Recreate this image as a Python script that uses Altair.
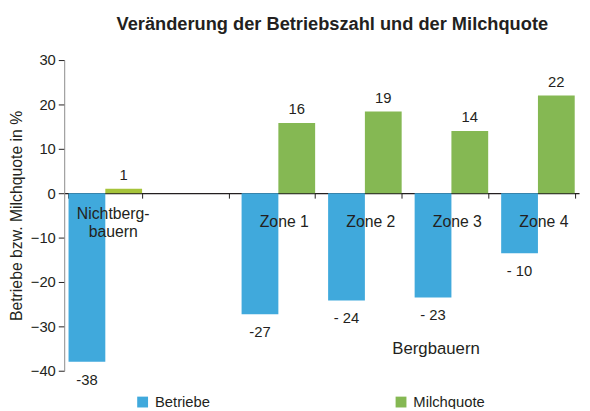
import altair as alt
import pandas as pd

# --- data ---
categories = ["Nichtbergbauern", "Zone 1", "Zone 2", "Zone 3", "Zone 4"]
x_domain = ["Nichtbergbauern", " ", "Zone 1", "Zone 2", "Zone 3", "Zone 4"]
cat_labels = ["Nichtberg-\nbauern", "Zone 1", "Zone 2", "Zone 3", "Zone 4"]
series = ["Betriebe", "Milchquote"]
betriebe = [-38, -27.3, -24.2, -23.5, -13.5]
betriebe_labels = ["-38", "-27", "- 24", "- 23", "- 10"]
milchquote = [1, 15.8, 18.4, 14, 22]
milch_labels = ["1", "16", "19", "14", "22"]
colors = ["#40a9dc", "#85b853"]
y_ticks = [-40, -30, -20, -10, 0, 10, 20, 30]
group_note = ["Bergbauern"]
title_text = "Veränderung der Betriebszahl und der Milchquote"
y_title = "Betriebe bzw. Milchquote in %"

rows = []
for c, v, l in zip(categories, betriebe, betriebe_labels):
    rows.append({"cat": c, "series": "Betriebe", "value": v, "label": l})
for c, v, l in zip(categories, milchquote, milch_labels):
    rows.append({"cat": c, "series": "Milchquote", "value": v, "label": l})
df = pd.DataFrame(rows)
cat_df = pd.DataFrame({"cat": categories, "catlabel": cat_labels})

TEXT = "#231f20"
FONT = "Liberation Sans"

x_enc = alt.X(
    "cat:N",
    sort=x_domain,
    scale=alt.Scale(domain=x_domain, paddingInner=0.15, paddingOuter=0.05),
    axis=alt.Axis(
        title=None, labels=False, offset=-180, tickBand="extent",
        domainColor=TEXT, tickColor=TEXT, tickSize=5, domainWidth=1.2,
    ),
)
xo_enc = alt.XOffset("series:N", scale=alt.Scale(domain=series, paddingInner=0, paddingOuter=0))
y_enc = alt.Y(
    "value:Q",
    scale=alt.Scale(domain=[-40, 30], nice=False, zero=False),
    axis=alt.Axis(
        values=y_ticks, title=y_title, grid=False, tickSize=6,
        domainColor="#8a8a8a", tickColor=TEXT, labelFontSize=15,
        labelColor=TEXT, titleFontSize=16, titleColor=TEXT,
        titleFontWeight="normal", titlePadding=6, labelPadding=3,
    ),
)

base = alt.Chart(df)

bars = base.mark_bar().encode(
    x=x_enc,
    xOffset=xo_enc,
    y=y_enc,
    color=alt.condition(
        (alt.datum.cat == "Nichtbergbauern") & (alt.datum.series == "Milchquote"),
        alt.value("#a6c43a"),
        alt.Color(
            "series:N",
            scale=alt.Scale(domain=series, range=colors),
            legend=alt.Legend(
                title=None, orient="none", legendX=72, legendY=339,
                direction="horizontal", columnPadding=186, symbolType="square",
                symbolSize=121, symbolStrokeWidth=0, labelFontSize=15,
                labelColor=TEXT, labelOffset=5,
            ),
        ),
    ),
)

neg_text = base.transform_filter(alt.datum.series == "Betriebe").mark_text(
    baseline="top", dy=11, fontSize=15, color=TEXT
).encode(x=x_enc, xOffset=xo_enc, y=y_enc, text="label:N")

pos_text = base.transform_filter(alt.datum.series == "Milchquote").mark_text(
    baseline="bottom", dy=-6, fontSize=15, color=TEXT
).encode(x=x_enc, xOffset=xo_enc, y=y_enc, text="label:N")

cat_base = alt.Chart(cat_df)
zone_text = cat_base.transform_filter(alt.datum.cat != "Nichtbergbauern").mark_text(
    baseline="middle", fontSize=16, color=TEXT, dx=6
).encode(x=x_enc, y=alt.value(164), text="catlabel:N")

nb_text = cat_base.transform_filter(alt.datum.cat == "Nichtbergbauern").mark_text(
    baseline="top", fontSize=16, color=TEXT, lineBreak="\n", lineHeight=18, dx=8
).encode(x=x_enc, y=alt.value(148), text="catlabel:N")

note = alt.Chart(pd.DataFrame({"t": group_note})).mark_text(
    fontSize=17, color=TEXT, baseline="middle"
).encode(x=alt.value(377), y=alt.value(293), text="t:N")

chart = alt.layer(bars, neg_text, pos_text, zone_text, nb_text, note).properties(
    width=522,
    height=315,
    padding={"left": 57, "top": 50, "right": 3, "bottom": 36},
    autosize=alt.AutoSizeParams(type="none"),
    title=alt.Title(
        title_text, fontSize=18.5, fontWeight="bold", anchor="start",
        frame="group", dx=53, offset=20, color=TEXT,
    ),
).configure(font=FONT).configure_view(stroke=None)

chart.save("out.html", embed_options={"renderer": "svg", "actions": False})
